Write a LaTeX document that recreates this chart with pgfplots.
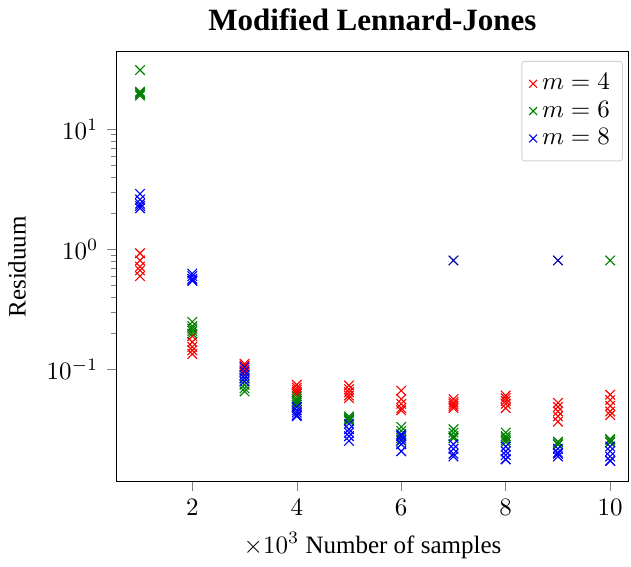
\documentclass[border=0pt]{standalone}
\usepackage{fontspec}
\usepackage{pgfplots}
\pgfplotsset{compat=1.18}
\setmainfont{Liberation Serif}

\definecolor{mgreen}{rgb}{0,0.5,0}

\begin{document}
\begin{tikzpicture}
\begin{axis}[
  scale only axis,
  width=205.2pt, height=172pt,
  ymode=log,
  xmin=0.54, xmax=10.36,
  ymin=0.0117, ymax=44,
  xtick={2,4,6,8,10},
  minor x tick num=0,
  ytick={0.1,1,10},
  tick align=outside,
  tick pos=left,
  major tick length=3.5pt,
  minor tick length=2pt,
  title={Modified Lennard-Jones},
  title style={font=\fontsize{12.4}{14}\bfseries\selectfont, yshift=-1pt},
  xlabel={$\times 10^3$ Number of samples},
  ylabel={Residuum},
  ylabel style={yshift=1.4pt},
  legend style={at={(0.988,0.979)}, anchor=north east, draw=gray!35,
    rounded corners=1pt, inner sep=3pt, row sep=-1pt},
  legend cell align=left,
  legend image code/.code={\draw[#1, mark size=2.2pt] plot coordinates {(0.15cm,0cm)};},
  every axis plot/.append style={only marks, mark=x, mark size=2.7pt, line width=0.45pt},
]
% m = 4
\addplot[red] coordinates {
 (1,0.93) (1,0.81) (1,0.72) (1,0.67) (1,0.60)
 (2,0.19) (2,0.17) (2,0.155) (2,0.145) (2,0.135)
 (3,0.112) (3,0.108) (3,0.104) (3,0.1) (3,0.095)
 (4,0.075) (4,0.071) (4,0.068) (4,0.065) (4,0.063)
 (5,0.074) (5,0.069) (5,0.065) (5,0.061) (5,0.058)
 (6,0.067) (6,0.057) (6,0.052) (6,0.048) (6,0.046)
 (7,0.057) (7,0.054) (7,0.052) (7,0.050) (7,0.048)
 (8,0.061) (8,0.058) (8,0.055) (8,0.052) (8,0.048)
 (9,0.053) (9,0.049) (9,0.045) (9,0.041) (9,0.037)
 (10,0.062) (10,0.056) (10,0.050) (10,0.045) (10,0.042)
};
\addlegendentry{$m=4$}
% m = 6
\addplot[mgreen] coordinates {
 (1,31) (1,20.5) (1,20) (1,19.5) (1,19)
 (2,0.25) (2,0.23) (2,0.22) (2,0.21) (2,0.20)
 (3,0.085) (3,0.080) (3,0.075) (3,0.070) (3,0.066)
 (4,0.060) (4,0.057) (4,0.055) (4,0.053) (4,0.051)
 (5,0.041) (5,0.040) (5,0.039) (5,0.038) (5,0.0375)
 (6,0.0335) (6,0.031) (6,0.029) (6,0.027) (6,0.0255)
 (7,0.032) (7,0.030) (7,0.028) (7,0.027) (7,0.027)
 (8,0.030) (8,0.028) (8,0.027) (8,0.026) (8,0.025)
 (9,0.0252) (9,0.025) (9,0.024) (9,0.024) (9,0.024)
 (10,0.0265) (10,0.026) (10,0.025) (10,0.025) (10,0.81)
};
\addlegendentry{$m=6$}
% m = 8
\addplot[blue] coordinates {
 (1,2.9) (1,2.6) (1,2.4) (1,2.3) (1,2.2)
 (2,0.63) (2,0.60) (2,0.57) (2,0.55) (2,0.55)
 (3,0.105) (3,0.097) (3,0.090) (3,0.085) (3,0.080)
 (4,0.049) (4,0.046) (4,0.044) (4,0.042) (4,0.041)
 (5,0.0355) (5,0.032) (5,0.030) (5,0.028) (5,0.0256)
 (6,0.029) (6,0.028) (6,0.026) (6,0.024) (6,0.021)
 (7,0.024) (7,0.022) (7,0.020) (7,0.019)
 (8,0.023) (8,0.021) (8,0.0195) (8,0.018) (8,0.018)
 (9,0.022) (9,0.0205) (9,0.020) (9,0.019)
 (10,0.023) (10,0.021) (10,0.019) (10,0.0175) (10,0.0175)
};
\addlegendentry{$m=8$}
% m = 8, outliers (drawn darker, overlapping runs)
\addplot[blue!65!black, forget plot] coordinates {(7,0.81) (9,0.81)};
\end{axis}
\end{tikzpicture}
\end{document}
